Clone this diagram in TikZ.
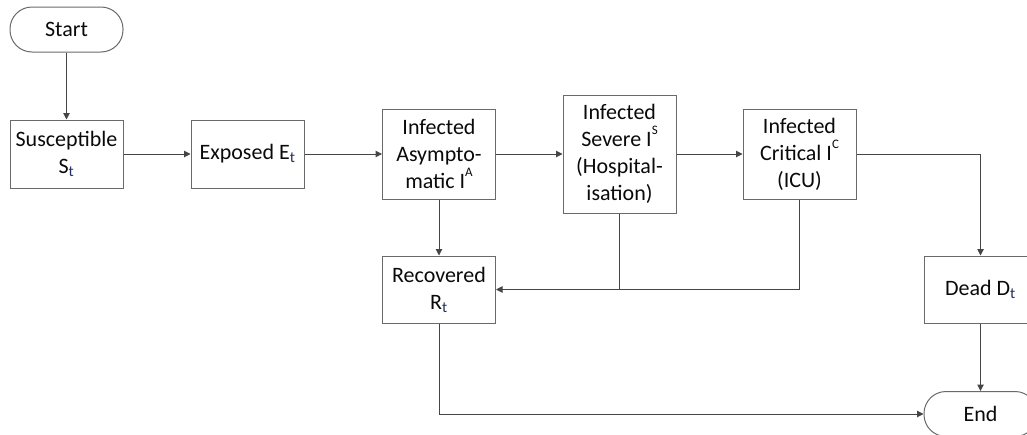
\documentclass[tikz,border=0pt]{standalone}
\usepackage{fontspec}
\setmainfont{Carlito}
\usetikzlibrary{arrows.meta}
\definecolor{linec}{HTML}{454545}
\definecolor{boxc}{HTML}{6A6A6A}
\definecolor{txtc}{HTML}{0A0A0A}
\definecolor{subc}{HTML}{1F2F5F}
\newcommand{\sbt}{\textsubscript{\textcolor{subc}{t}}}
\newcommand{\spr}[1]{\raisebox{0.55em}{\fontsize{13}{13}\selectfont #1}}
\tikzset{
  box/.style={draw=boxc, line width=1pt, rectangle, align=center, inner sep=0pt,
    text=txtc, font=\fontsize{22}{27}\selectfont, minimum width=113pt},
  term/.style={box, rounded corners=22pt, minimum height=45pt},
  conn/.style={draw=linec, line width=1pt},
  arr/.style={conn, -{Triangle[length=6.5pt,width=6.5pt]}},
}
\begin{document}
\begin{tikzpicture}[x=1pt,y=-1pt]
\useasboundingbox (0,0) rectangle (1027,434);
\clip (0,0) rectangle (1027,434);
\node[term] (start) at (66.5,29.5) {Start};
\node[box, minimum height=68pt] (sus) at (66.5,154) {Susceptible\\S\sbt};
\node[box, minimum height=68pt] (exp) at (247.5,154) {Exposed E\sbt};
\node[box, minimum height=90pt] (asy) at (439,154) {Infected\\Asympto-\\matic I\spr{A}};
\node[box, minimum height=118pt] (sev) at (619.5,154) {Infected\\Severe I\spr{S}\\(Hospital-\\isation)};
\node[box, minimum height=90pt] (cri) at (799.5,154) {Infected\\Critical I\spr{C}\\(ICU)};
\node[box, minimum height=67pt] (rec) at (439,289.5) {Recovered\\R\sbt};
\node[box, minimum height=67pt] (dead) at (980.5,289.5) {Dead D\sbt};
\node[term] (end) at (980.5,414) {End};
\coordinate (join) at (sev.south |- rec.east);
\draw[arr] (start) -- (sus);
\draw[arr] (sus) -- (exp);
\draw[arr] (exp) -- (asy);
\draw[arr] (asy) -- (sev);
\draw[arr] (sev) -- (cri);
\draw[arr] (cri.east) -| (dead.north);
\draw[arr] (asy) -- (rec);
\draw[arr] (sev.south) |- (rec.east);
\draw[conn] (cri.south) |- (join);
\draw[arr] (rec.south) |- (end.west);
\draw[arr] (dead) -- (end);
\end{tikzpicture}
\end{document}
